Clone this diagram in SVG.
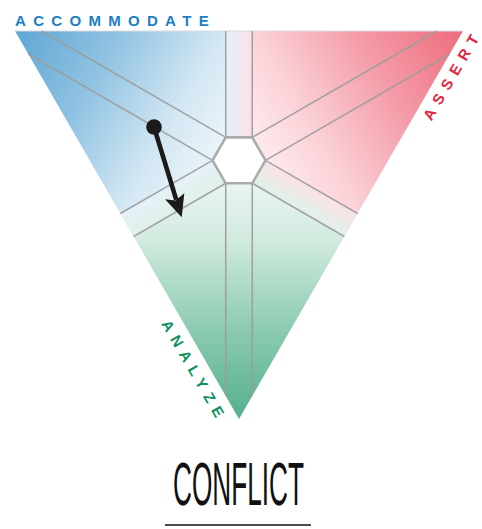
<svg xmlns="http://www.w3.org/2000/svg" width="482" height="529" viewBox="0 0 482 529">
  <defs>
    <linearGradient id="gBlue" gradientUnits="userSpaceOnUse" x1="15" y1="31" x2="239" y2="160.33">
      <stop offset="0" stop-color="#5ea6d3"/>
      <stop offset="0.35" stop-color="#8fc2e2"/>
      <stop offset="0.7" stop-color="#d3e7f3"/>
      <stop offset="1" stop-color="#f4f9fc"/>
    </linearGradient>
    <linearGradient id="gRed" gradientUnits="userSpaceOnUse" x1="463" y1="31" x2="239" y2="160.33">
      <stop offset="0" stop-color="#ee6c7d"/>
      <stop offset="0.35" stop-color="#f49aa6"/>
      <stop offset="0.7" stop-color="#fbd2d8"/>
      <stop offset="1" stop-color="#fff4f5"/>
    </linearGradient>
    <linearGradient id="gGreen" gradientUnits="userSpaceOnUse" x1="239" y1="419" x2="239" y2="160.33">
      <stop offset="0" stop-color="#55b08c"/>
      <stop offset="0.35" stop-color="#8ccbb1"/>
      <stop offset="0.7" stop-color="#d3ebe0"/>
      <stop offset="1" stop-color="#f1f9f5"/>
    </linearGradient>
    <linearGradient id="gTop" gradientUnits="userSpaceOnUse" x1="225.75" y1="0" x2="252.25" y2="0">
      <stop offset="0" stop-color="#e2f2fa"/>
      <stop offset="1" stop-color="#fde0e5"/>
    </linearGradient>
    <linearGradient id="gLeft" gradientUnits="userSpaceOnUse" x1="212.5" y1="160.33" x2="225.75" y2="183.28">
      <stop offset="0" stop-color="#e6f1f8"/>
      <stop offset="1" stop-color="#e0f1e9"/>
    </linearGradient>
    <linearGradient id="gRight" gradientUnits="userSpaceOnUse" x1="265.5" y1="160.33" x2="252.25" y2="183.28">
      <stop offset="0" stop-color="#fbe2e6"/>
      <stop offset="1" stop-color="#e0f1e9"/>
    </linearGradient>
    <style>
      .grid line { stroke: #9c9c9c; stroke-width: 1.6; stroke-opacity: 0.9; }
      .lbl { font-family: "Liberation Sans", Arial, sans-serif; font-weight: bold; font-size: 15px; }
    </style>
  </defs>

  <g id="triangle">
    <polygon points="15,31 239,31 239,160.33 127,225" fill="url(#gBlue)"/>
    <polygon points="463,31 239,31 239,160.33 351,225" fill="url(#gRed)"/>
    <polygon points="239,419 127,225 239,160.33 351,225" fill="url(#gGreen)"/>
    <polygon points="225.75,31 252.25,31 252.25,137.38 225.75,137.38" fill="url(#gTop)"/>
    <polygon points="212.5,160.33 225.75,183.28 133.62,236.47 120.37,213.52" fill="url(#gLeft)"/>
    <polygon points="265.5,160.33 252.25,183.28 344.38,236.47 357.63,213.52" fill="url(#gRight)"/>
    <line x1="15" y1="31" x2="463" y2="31" stroke="#dcdcdc" stroke-width="1"/>
  </g>

  <g id="grid" class="grid">
    <line x1="252.25" y1="137.38" x2="252.25" y2="31"/>
    <line x1="225.75" y1="137.38" x2="225.75" y2="31"/>
    <line x1="225.75" y1="137.38" x2="41.5" y2="31"/>
    <line x1="212.5" y1="160.33" x2="28.25" y2="53.95"/>
    <line x1="212.5" y1="160.33" x2="120.37" y2="213.52"/>
    <line x1="225.75" y1="183.28" x2="133.62" y2="236.47"/>
    <line x1="225.75" y1="183.28" x2="225.75" y2="396.05"/>
    <line x1="252.25" y1="183.28" x2="252.25" y2="396.05"/>
    <line x1="252.25" y1="183.28" x2="344.38" y2="236.47"/>
    <line x1="265.5" y1="160.33" x2="357.63" y2="213.52"/>
    <line x1="265.5" y1="160.33" x2="449.75" y2="53.95"/>
    <line x1="252.25" y1="137.38" x2="436.5" y2="31"/>
  </g>

  <g id="center-hexagon">
    <polygon points="265.5,160.33 252.25,137.38 225.75,137.38 212.5,160.33 225.75,183.28 252.25,183.28" fill="#ffffff" stroke="#ababab" stroke-width="2.6" stroke-linejoin="round"/>
  </g>

  <g id="label-accommodate">
    <text class="lbl" x="15" y="26" fill="#1b80c2" dx="0 7.3 7.3 7.3 7.3 7.3 7.3 7.3 7.3 7.3 7.3">ACCOMMODATE</text>
  </g>
  <g id="label-assert">
    <text class="lbl" transform="translate(431.6,121.5) rotate(-60)" fill="#e1263e" dx="0 7 7 7 7 7">ASSERT</text>
  </g>
  <g id="label-analyze">
    <text class="lbl" transform="translate(160.9,323.7) rotate(60)" fill="#10905f" dx="0 6.7 6.7 6.7 6.7 6.7 6.7">ANALYZE</text>
  </g>

  <g id="connectors">
    <g id="arrow">
      <line x1="154" y1="127" x2="176.3" y2="199.8" stroke="#1c1a1b" stroke-width="4.6"/>
      <polygon points="181.7,217.3 165,199.3 175.5,200.5 184.3,193.3" fill="#1c1a1b"/>
      <circle cx="154" cy="127" r="7.8" fill="#1c1a1b"/>
    </g>
  </g>

  <g id="title">
    <text x="238.5" y="505" text-anchor="middle" font-family="'Liberation Sans', Arial, sans-serif" font-size="61.5" textLength="131" lengthAdjust="spacingAndGlyphs" fill="#111111">CONFLICT</text>
    <line x1="165" y1="525" x2="311" y2="525" stroke="#111111" stroke-width="1.5"/>
  </g>
</svg>
